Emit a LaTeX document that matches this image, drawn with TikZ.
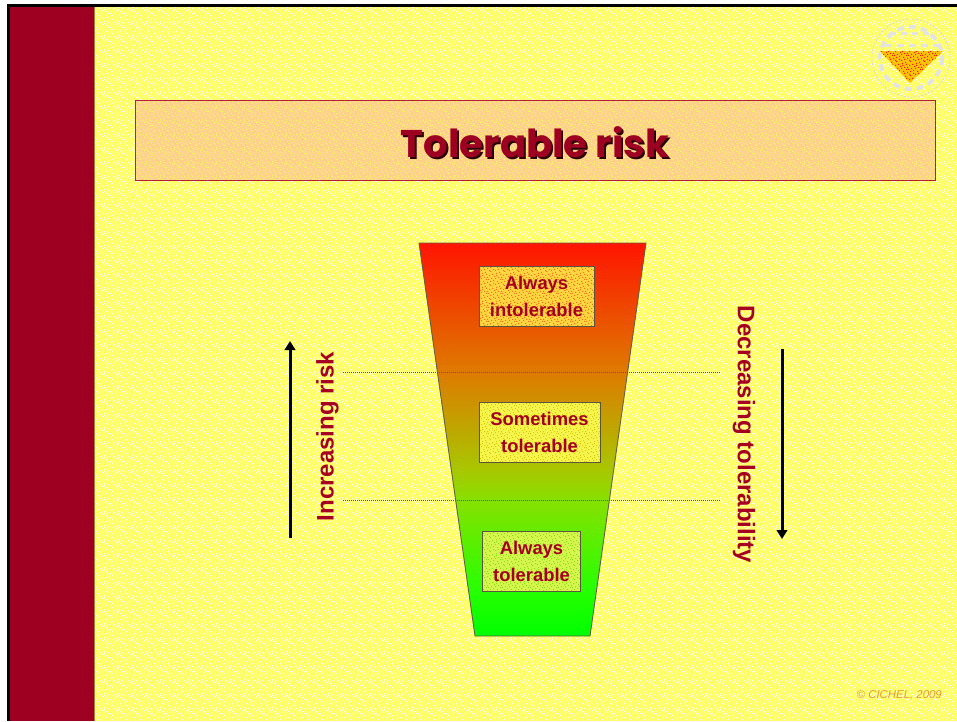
\documentclass[tikz,border=0pt]{standalone}
\usepackage{fontspec}
\setmainfont{Liberation Sans}
\newfontfamily\titlefont{Poppins}
\usetikzlibrary{arrows.meta,patterns}
\definecolor{wine}{HTML}{A50021}
\definecolor{barred}{HTML}{9E0021}
\definecolor{paper}{HTML}{FFFF66}
\definecolor{band}{HTML}{FFD08C}
\definecolor{boxa}{HTML}{FFD640}
\definecolor{speca}{HTML}{F77319}
\definecolor{boxb}{HTML}{F5F54D}
\definecolor{specb}{HTML}{D9CC0D}
\definecolor{boxc}{HTML}{D6F54D}
\definecolor{specc}{HTML}{8CE01A}
\pgfdeclarepatternformonly{speck}{\pgfqpoint{-1pt}{-1pt}}{\pgfqpoint{15pt}{15pt}}{\pgfqpoint{14pt}{14pt}}{%
  \foreach \a/\b in {0/1,3/6,5/2,8/9,11/4,13/11,2/12,6/13,9/0,12/7,1/8,4/10,7/5,10/12,13/2,3/3,8/3,5/8,11/9,0/5,6/11,10/7}{%
    \pgfpathrectangle{\pgfqpoint{\a pt}{\b pt}}{\pgfqpoint{1pt}{1pt}}}%
  \pgfusepath{fill}}
\pgfdeclareverticalshading{riskramp}{100bp}{%
  rgb(0bp)=(0,1,0);
  rgb(25bp)=(0,1,0);
  rgb(30.85bp)=(0.15,1,0);
  rgb(42.3bp)=(0.53,0.88,0);
  rgb(46.1bp)=(0.66,0.78,0);
  rgb(58.6bp)=(0.87,0.48,0);
  rgb(75bp)=(1,0.08,0);
  rgb(100bp)=(1,0.08,0)}
\tikzset{
  x=1pt,y=-1pt,
  speckled/.style={preaction={fill=#1}},
  levelbox/.style={draw=black!75!yellow,line width=.8pt,inner sep=0pt},
  leveltext/.style={text=wine,font=\fontsize{18.4}{27}\selectfont\bfseries,align=center,inner sep=0pt},
  sidelabel/.style={text=wine,font=\fontsize{24}{28}\selectfont\bfseries,inner sep=0pt},
  bigarrow/.style={line width=3pt,-{Triangle[length=9pt,width=10.5pt]}},
  limitline/.style={line width=.8pt,black!75!yellow,dash pattern=on 1pt off 1pt},
}
\begin{document}
\begin{tikzpicture}
\useasboundingbox (0,0) rectangle (957,721);
% page
\fill[white] (0,0) rectangle (957,721);
\fill[black] (7,4) rectangle (957,721);
\fill[paper] (10,7) rectangle (957,721);
\fill[pattern=speck,pattern color=white] (94,7) rectangle (957,721);
\fill[barred] (10,7) rectangle (94,721);
\draw[black!50!yellow!70!red,line width=1pt] (94.5,7) -- (94.5,721);
% logo
\draw[gray!30,line width=.8pt,dash pattern=on 2pt off 1.5pt] (911,58) circle (39);
\draw[gray!22,line width=4pt,dash pattern=on 7pt off 5pt] (911,58) circle (31);
\draw[gray!22,line width=3pt,dash pattern=on 7pt off 5pt] (885,45) -- (938,45);
\draw[gray!22,line width=3pt,dash pattern=on 6pt off 5pt] (890,33) -- (934,33);
\fill[yellow!55!orange] (880,51) -- (943,51) -- (910,83) -- cycle;
\fill[pattern=speck,pattern color=red!85!orange] (880,51) -- (943,51) -- (910,83) -- cycle;
% title
\node[fill=band,minimum width=800pt,minimum height=80pt,inner sep=0pt,outer sep=0pt,anchor=north west] (band) at (135,100) {};
\fill[pattern=speck,pattern color=yellow!60!white] (band.north west) rectangle (band.south east);
\draw[wine!85!band,line width=1pt] (band.north west) rectangle (band.south east);
\node[text=black!75!wine,font=\titlefont\fontsize{38.6}{44}\selectfont\bfseries,inner sep=0pt] (titleshadow) at (537,144.5) {Tolerable risk};
\node[text=barred,font=\titlefont\fontsize{38.6}{44}\selectfont\bfseries,inner sep=0pt] (title) at (535,142.5) {Tolerable risk};
% funnel
\shade[shading=riskramp] (419,243) -- (646,243) -- (590,636) -- (475,636) -- cycle;
\draw[black!70!yellow,line width=.9pt] (419,243) -- (646,243) -- (590,636) -- (475,636) -- cycle;
% limits
\coordinate (la) at (343,372); \coordinate (lb) at (720,372);
\coordinate (lc) at (343,500); \coordinate (ld) at (720,500);
\draw[limitline] (la) -- (lb);
\draw[limitline] (lc) -- (ld);
% boxes
\node[levelbox,speckled=boxa,pattern=speck,pattern color=speca,minimum width=115pt,minimum height=60pt] (b1) at (536.5,296) {};
\node[leveltext] (t1) at (b1) {Always\\intolerable};
\node[levelbox,speckled=boxb,pattern=speck,pattern color=specb,minimum width=121pt,minimum height=60pt] (b2) at (539.5,432) {};
\node[leveltext] (t2) at (b2) {Sometimes\\tolerable};
\node[levelbox,speckled=boxc,pattern=speck,pattern color=specc,minimum width=98pt,minimum height=60pt] (b3) at (531.5,561) {};
\node[leveltext] (t3) at (b3) {Always\\tolerable};
% side labels
\node[sidelabel,rotate=90] (inc) at (327.5,436.5) {Increasing risk};
\node[sidelabel,rotate=-90] (dec) at (744,434.5) {Decreasing tolerability};
\coordinate (ua) at (290,538); \coordinate (ub) at (290,341);
\coordinate (da) at (782,349); \coordinate (db) at (782,539);
\draw[bigarrow] (ua) -- (ub);
\draw[bigarrow] (da) -- (db);
% copyright
\node[text=red!50!orange!80!black,opacity=.5,font=\fontsize{11.4}{13}\selectfont\itshape,inner sep=0pt,anchor=east] (copy) at (942,695) {© CICHEL, 2009};
\end{tikzpicture}
\end{document}
